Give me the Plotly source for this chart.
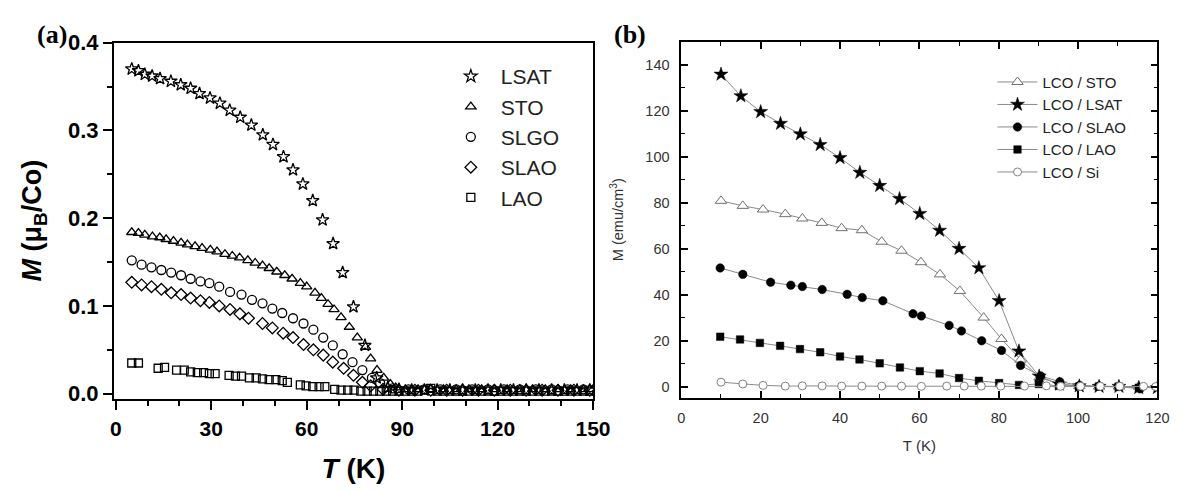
import plotly.graph_objects as go

# ---------------- Panel (a) data ----------------
lsat_a_T = [5.0, 7.1, 9.1, 11.4, 13.9, 17.3, 20.4, 23.5, 26.3, 29.6, 32.7, 35.8, 39.1, 42.6, 46.2,
            49.4, 52.7, 55.7, 58.8, 61.9, 65.0, 68.3, 71.3, 74.7, 78.3, 82.0, 85.5,
            89, 93, 97, 101, 105, 109, 113, 117, 121, 125, 129, 133, 137, 141, 145, 149]
lsat_a_M = [0.370, 0.368, 0.364, 0.362, 0.359, 0.356, 0.352, 0.348, 0.342, 0.337, 0.331, 0.323, 0.315, 0.306, 0.295,
            0.284, 0.270, 0.255, 0.239, 0.220, 0.198, 0.171, 0.138, 0.099, 0.055, 0.018, 0.007,
            0.005, 0.004, 0.004, 0.004, 0.004, 0.004, 0.004, 0.004, 0.004, 0.004, 0.004, 0.004, 0.004, 0.004, 0.004, 0.004]

sto_a_T = [5.0, 7.1, 9.1, 11.5, 13.8, 15.8, 18.1, 20.5, 22.5, 24.9, 27.1, 29.7, 31.8, 34.3, 36.6, 38.9,
           41.5, 43.8, 46.1, 48.2, 50.6, 53.1, 55.4, 58.0, 60.0, 62.6, 64.6, 66.7, 68.6, 70.8, 73.4,
           75.9, 78.5, 80.1, 82.1, 84.2, 86.3, 88.0,
           91, 95, 99, 103, 107, 111, 115, 119, 123, 127, 131, 135, 139, 143, 147, 150]
sto_a_M = [0.184, 0.183, 0.181, 0.179, 0.178, 0.176, 0.174, 0.172, 0.170, 0.168, 0.166, 0.164, 0.162, 0.159, 0.157, 0.155,
           0.152, 0.149, 0.146, 0.143, 0.139, 0.135, 0.131, 0.126, 0.122, 0.115, 0.109, 0.102, 0.096, 0.087, 0.076,
           0.064, 0.053, 0.040, 0.027, 0.018, 0.011, 0.007,
           0.005, 0.005, 0.005, 0.005, 0.005, 0.005, 0.005, 0.005, 0.005, 0.005, 0.005, 0.005, 0.005, 0.005, 0.005, 0.005]

slgo_a_T = [5.0, 8.1, 11.2, 14.3, 17.4, 20.5, 23.5, 26.6, 29.4, 32.5, 35.9, 39.5, 42.8, 46.1, 49.2, 52.3,
            55.7, 59.0, 62.1, 65.2, 68.2, 71.3, 74.4, 77.5, 80.5, 83.1,
            87, 92, 97, 102, 107, 112, 117, 122, 127, 132, 137, 142, 147]
slgo_a_M = [0.152, 0.147, 0.144, 0.141, 0.138, 0.135, 0.131, 0.128, 0.126, 0.122, 0.116, 0.113, 0.107, 0.103, 0.097, 0.092,
            0.086, 0.080, 0.073, 0.064, 0.055, 0.045, 0.036, 0.027, 0.018, 0.012,
            0.006, 0.005, 0.005, 0.005, 0.005, 0.005, 0.005, 0.005, 0.005, 0.005, 0.005, 0.005, 0.005]

slao_a_T = [5.0, 8.1, 11.2, 14.3, 17.4, 20.5, 23.5, 26.6, 29.4, 32.5, 35.9, 39.0, 41.7, 46.1, 49.2, 52.6,
            55.7, 59.0, 62.1, 65.2, 68.2, 71.6, 74.7, 77.5, 80.1,
            84, 89, 94, 99, 104, 109, 114, 119, 124, 129, 134, 139, 144, 149]
slao_a_M = [0.127, 0.124, 0.122, 0.119, 0.115, 0.113, 0.109, 0.106, 0.104, 0.100, 0.096, 0.091, 0.086, 0.080, 0.075, 0.069,
            0.064, 0.056, 0.050, 0.044, 0.036, 0.029, 0.021, 0.013, 0.009,
            0.005, 0.004, 0.004, 0.004, 0.004, 0.004, 0.004, 0.004, 0.004, 0.004, 0.004, 0.004, 0.004, 0.004]

lao_a_T = [5.0, 7.1, 13.3, 15.3, 19.1, 21.5, 23.5, 25.6, 27.6, 29.4, 31.2, 35.6, 37.6, 39.5, 42.0, 44.1,
           46.1, 48.2, 50.3, 52.3, 53.9, 58.0, 59.8, 61.9, 63.9, 65.7, 68.8, 70.8, 72.9, 74.9,
           77, 79, 81, 83, 85, 87, 89, 91, 93, 95, 97, 99, 101, 103, 105, 107, 109, 111, 113, 115,
           117, 119, 121, 123, 125, 127, 129, 131, 133, 135, 137, 139, 141, 143, 145, 147, 149]
lao_a_M = [0.035, 0.035, 0.029, 0.030, 0.027, 0.027, 0.025, 0.024, 0.024, 0.023, 0.023, 0.021, 0.020, 0.020, 0.018, 0.018,
           0.017, 0.016, 0.016, 0.015, 0.013, 0.010, 0.009, 0.008, 0.008, 0.008, 0.005, 0.004, 0.004, 0.004,
           0.003, 0.003, 0.003, 0.003, 0.003, 0.003, 0.003, 0.003, 0.003, 0.003, 0.004, 0.006, 0.003, 0.003, 0.003, 0.003, 0.003, 0.003, 0.003, 0.003,
           0.003, 0.003, 0.003, 0.003, 0.003, 0.003, 0.003, 0.003, 0.003, 0.003, 0.003, 0.003, 0.003, 0.003, 0.003, 0.003, 0.003]

names_a = ["LSAT", "STO", "SLGO", "SLAO", "LAO"]

# ---------------- Panel (b) data ----------------
sto_b_T = [10, 15.5, 20.6, 26.2, 30.5, 35.4, 40.4, 45.5, 50.5, 55.5, 60.4, 65.2, 70.2, 76.2, 80.7, 85.5,
           90.3, 95.3, 100.3, 105.3, 110.3, 115.3, 120]
sto_b_M = [80.8, 78.6, 77.0, 75.0, 73.1, 71.2, 68.9, 68.0, 63.0, 59.1, 54.1, 48.8, 41.6, 30.0, 20.7, 11.7,
           4.0, 1.0, 0.2, 0, 0, 0, 0]

lsat_b_T = [10, 15, 20, 25, 30, 35, 40, 45, 50, 55, 60.1, 65.1, 70.0, 75.0, 80.1, 85.1,
            90.2, 95.3, 100.3, 105.3, 110.3, 115.3, 120]
lsat_b_M = [135.8, 126.4, 119.5, 114.4, 109.8, 105.2, 99.5, 93.1, 87.4, 81.7, 75.2, 67.9, 60.0, 51.6, 37.3, 15.4,
            4.5, 1.0, 0.2, 0, 0, -0.5, -0.5]

slao_b_T = [9.8, 15.5, 22.5, 27.6, 30.5, 35.5, 41.8, 45.6, 50.8, 58.4, 60.5, 67.5, 70.6, 75.7, 80.7, 85.5,
            90.6, 95.4, 100.4, 105.3, 110.3, 115.6]
slao_b_M = [51.6, 48.8, 45.4, 44.1, 43.5, 42.2, 40.1, 38.7, 37.3, 31.7, 30.7, 26.6, 24.2, 19.9, 15.7, 9.2,
            4.6, 2.1, 0.5, 0.2, 0, -1.0]

lao_b_T = [9.8, 14.8, 19.8, 24.9, 29.9, 35.0, 40.0, 44.9, 50.0, 55.1, 60.1, 65.1, 70.0, 75.0, 80.1, 85.1,
           90.1, 95.2, 100.2, 105.2, 110.2, 115.3]
lao_b_M = [21.7, 20.5, 19.0, 17.7, 16.3, 14.9, 13.1, 11.8, 10.1, 8.3, 6.7, 5.7, 3.7, 2.5, 1.5, 0.7,
           1.1, 0.3, 0, 0, 0, -0.5]

si_b_T = [10, 15.5, 20.6, 26.2, 30.5, 35.5, 40.4, 45.5, 50.5, 55.5, 60.5, 66.9, 71.3, 75.6, 80.5, 86.5,
          92.0, 95.6, 100.6, 105.6, 110.5, 116.5, 119.6]
si_b_M = [1.9, 1.1, 0.5, 0.2, 0.3, 0.3, 0.2, 0.2, 0.2, 0.2, 0.1, 0.2, 0.2, 0.2, 0.2, 0.2,
          0.3, 0.1, 0.1, 0.1, 0.1, 0.1, 0]

names_b = ["LCO / STO", "LCO / LSAT", "LCO / SLAO", "LCO / LAO", "LCO / Si"]

# ---------------- Figure ----------------
W, H = 1198, 490
fig = go.Figure()

sym_a = ["star-open", "triangle-up-open", "circle-open", "diamond-open", "square-open"]
size_a = [9.5, 9, 9, 9, 8]
data_a = [(lsat_a_T, lsat_a_M), (sto_a_T, sto_a_M), (slgo_a_T, slgo_a_M),
          (slao_a_T, slao_a_M), (lao_a_T, lao_a_M)]
for (xs, ys), nm, sy, sz in zip(data_a, names_a, sym_a, size_a):
    fig.add_trace(go.Scatter(
        x=xs, y=ys, name=nm, mode="markers",
        marker=dict(symbol=sy, size=sz, color="black", line=dict(width=1.3, color="black")),
        xaxis="x", yaxis="y", legend="legend"))

GREY = "#8a8a8a"
data_b = [(sto_b_T, sto_b_M), (lsat_b_T, lsat_b_M), (slao_b_T, slao_b_M),
          (lao_b_T, lao_b_M), (si_b_T, si_b_M)]
style_b = [
    dict(symbol="triangle-up", size=10, color="white", line=dict(width=1, color="#707070")),
    dict(symbol="star", size=10.5, color="black", line=dict(width=0.5, color="black")),
    dict(symbol="circle", size=8.5, color="black", line=dict(width=0.5, color="black")),
    dict(symbol="square", size=7.5, color="black", line=dict(width=0.5, color="black")),
    dict(symbol="circle", size=8, color="white", line=dict(width=1, color="#808080")),
]
for (xs, ys), nm, mk in zip(data_b, names_b, style_b):
    fig.add_trace(go.Scatter(
        x=xs, y=ys, name=nm, mode="lines+markers",
        line=dict(color=GREY, width=1), marker=mk,
        xaxis="x2", yaxis="y2", legend="legend2"))

FA = "Liberation Sans, Arial, sans-serif"

xa0, xa1 = 112 / W, 600 / W
xb0, xb1 = 690 / W, 1175 / W
ya0, ya1 = (H - 403) / H, (H - 32) / H
yb0, yb1 = (H - 402) / H, (H - 31) / H

fig.update_layout(
    width=W, height=H, margin=dict(l=0, r=0, t=0, b=0),
    paper_bgcolor="white", plot_bgcolor="white",
    font=dict(family=FA, color="black"),
    xaxis=dict(domain=[xa0, xa1], range=[-0.6, 150], tick0=0, dtick=30,
               showline=True, linecolor="black", linewidth=2, mirror=True,
               ticks="outside", ticklen=9, tickwidth=2, tickcolor="black",
               minor=dict(dtick=10, ticks="outside", ticklen=5, tickwidth=1.5, tickcolor="black"),
               showgrid=False, zeroline=False, ticklabelstandoff=1,
               tickfont=dict(size=21, weight="bold", family=FA),
               title=dict(text="<i>T</i> (K)", font=dict(size=28, weight="bold", family=FA), standoff=20)),
    yaxis=dict(domain=[ya0, ya1], range=[-0.0055, 0.4], tick0=0, dtick=0.1, tickformat=".1f",
               anchor="x",
               showline=True, linecolor="black", linewidth=2, mirror=True,
               ticks="outside", ticklen=9, tickwidth=2, tickcolor="black",
               minor=dict(dtick=0.05, ticks="outside", ticklen=5, tickwidth=1.5, tickcolor="black"),
               showgrid=False, zeroline=False,
               tickfont=dict(size=22, weight="bold", family=FA),
               title=dict(text="<i>M</i> (μ<sub>B</sub>/Co)", font=dict(size=27, weight="bold", family=FA), standoff=18)),
    xaxis2=dict(domain=[xb0, xb1], range=[0, 120], tick0=0, dtick=20, anchor="y2",
                showline=True, linecolor="black", linewidth=1.8, mirror="allticks",
                ticks="inside", ticklen=7, tickwidth=1.5, tickcolor="black",
                minor=dict(dtick=10, ticks="inside", ticklen=4, tickwidth=1.3, tickcolor="black"),
                showgrid=False, zeroline=False, ticklabelstandoff=6,
                tickfont=dict(size=14.5, color="#333333", family=FA),
                title=dict(text="T (K)", font=dict(size=15, color="#333333", family=FA), standoff=16)),
    yaxis2=dict(domain=[yb0, yb1], range=[-4.8, 150], tick0=0, dtick=20, anchor="x2",
                showline=True, linecolor="black", linewidth=1.8, mirror="allticks",
                ticks="inside", ticklen=7, tickwidth=1.5, tickcolor="black",
                minor=dict(dtick=10, ticks="inside", ticklen=4, tickwidth=1.3, tickcolor="black"),
                showgrid=False, zeroline=False, ticklabelstandoff=7,
                tickfont=dict(size=14.5, color="#333333", family=FA),
                title=dict(text="M (emu/cm<sup>3</sup>)", font=dict(size=14.5, color="#333333", family=FA), standoff=18)),
    legend=dict(x=445 / W, y=(H - 46) / H, xanchor="left", yanchor="top",
                bgcolor="rgba(0,0,0,0)", borderwidth=0, itemwidth=50,
                font=dict(size=21, family=FA, color="#222222"), itemsizing="trace"),
    legend2=dict(x=1007 / W, y=(H - 56) / H, xanchor="left", yanchor="top",
                 bgcolor="rgba(0,0,0,0)", borderwidth=0, itemwidth=40,
                 font=dict(size=15, family=FA, color="#222222"), itemsizing="trace"),
    annotations=[
        dict(text="<b>(a)</b>", x=32 / W, y=(H - 23) / H, xref="paper", yref="paper",
             xanchor="left", yanchor="middle", showarrow=False,
             font=dict(size=26, family="Liberation Serif, Times New Roman, serif", color="black")),
        dict(text="<b>(b)</b>", x=619 / W, y=(H - 23) / H, xref="paper", yref="paper",
             xanchor="left", yanchor="middle", showarrow=False,
             font=dict(size=26, family="Liberation Serif, Times New Roman, serif", color="black")),
    ],
)

fig.write_html("out.html")
